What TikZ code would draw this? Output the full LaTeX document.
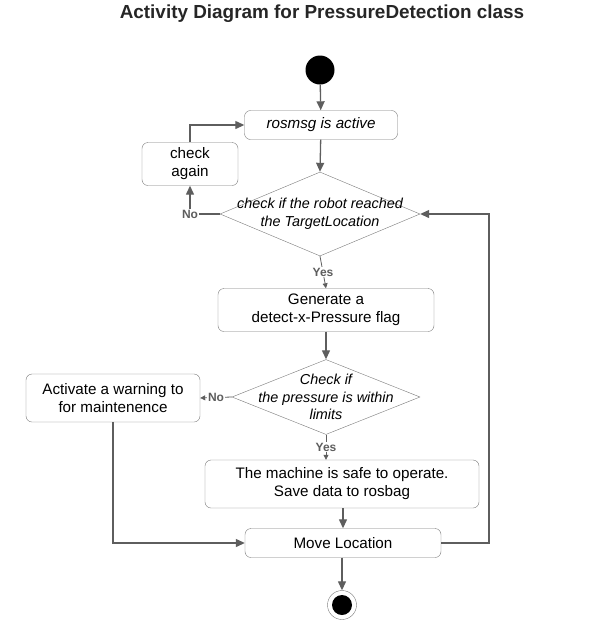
\documentclass[tikz,border=0pt]{standalone}
\usepackage{fontspec}
\setmainfont{Liberation Sans}
\usetikzlibrary{shapes.geometric,arrows.meta}
\definecolor{linegray}{HTML}{5E5E5E}
\definecolor{boxgray}{HTML}{7A7A7A}
\tikzset{
  activity/.style={draw=boxgray, rounded corners=6pt, fill=white, align=center, inner sep=0pt, font=\fontsize{15.2}{18}\selectfont},
  decision/.style={draw=boxgray, diamond, fill=white, inner sep=0pt},
  flow/.style={draw=linegray, line width=1.3pt, -{Triangle[length=9pt,width=8pt]}},
  guardflow/.style={draw=linegray, line width=0.8pt, -{Triangle[length=5pt,width=5pt]}},
  guard/.style={font=\bfseries\fontsize{12}{14}\selectfont, text=linegray, fill=white, inner sep=1pt},
}
\begin{document}
\begin{tikzpicture}[x=1pt,y=-1pt]
\useasboundingbox (0,0) rectangle (611,625);
\node[font=\bfseries\fontsize{18.9}{22}\selectfont, text=black!85] (title) at (322,14) {Activity Diagram for PressureDetection class};

\node[circle, fill=black, minimum size=29pt, inner sep=0pt] (start) at (320,70) {};
\node[activity, minimum width=153pt, minimum height=29pt, font=\itshape\fontsize{15.2}{18}\selectfont] (rosmsg) at (321,125) {rosmsg is active};
\node[activity, minimum width=96pt, minimum height=43pt] (check) at (190,164) {check\\again};
\node[decision, minimum width=200pt, minimum height=84pt, label={[font=\itshape\fontsize{14.4}{18}\selectfont, align=center]center:check if the robot reached\\the TargetLocation}] (dec1) at (320,214) {};
\node[activity, minimum width=216pt, minimum height=43pt] (flag) at (326,310) {Generate a\\detect-x-Pressure flag};
\node[decision, minimum width=188pt, minimum height=75pt, label={[font=\itshape\fontsize{14.4}{17.5}\selectfont, align=center]center:Check if\\the pressure is within\\limits}] (dec2) at (326,397) {};
\node[activity, minimum width=174pt, minimum height=48pt] (warn) at (113,398) {Activate a warning to\\for maintenence};
\node[activity, minimum width=274pt, minimum height=48pt] (safe) at (342,484) {The machine is safe to operate.\\Save data to rosbag};
\node[activity, minimum width=196pt, minimum height=29pt] (move) at (343,543) {Move Location};
\node[circle, draw=boxgray, minimum size=29pt, inner sep=0pt, path picture={\fill[black] (path picture bounding box.center) circle (10pt);}] (stop) at (342,605) {};
\coordinate (ret) at (489,214);

\path[flow] (start) -- (rosmsg);
\path[flow] (rosmsg) -- (dec1.north);
\path[flow] (dec1.west) -| node[guard, pos=0.5] {No} (check.south);
\path[flow] (check.north) |- (rosmsg.west);
\path[guardflow] (dec1.south) -- node[guard] {Yes} (flag.north);
\path[flow] (flag) -- (dec2.north);
\path[guardflow] (dec2.west) -- node[guard] {No} (warn.east);
\path[guardflow] (dec2.south) -- node[guard] {Yes} (dec2.south |- safe.north);
\path[flow] (safe.south -| move) -- (move.north);
\path[flow] (warn.south) |- (move.west);
\path[flow] (move.east) -| (ret) -- (dec1.east);
\path[flow] (move.south -| stop) -- (stop.north);
\end{tikzpicture}
\end{document}
